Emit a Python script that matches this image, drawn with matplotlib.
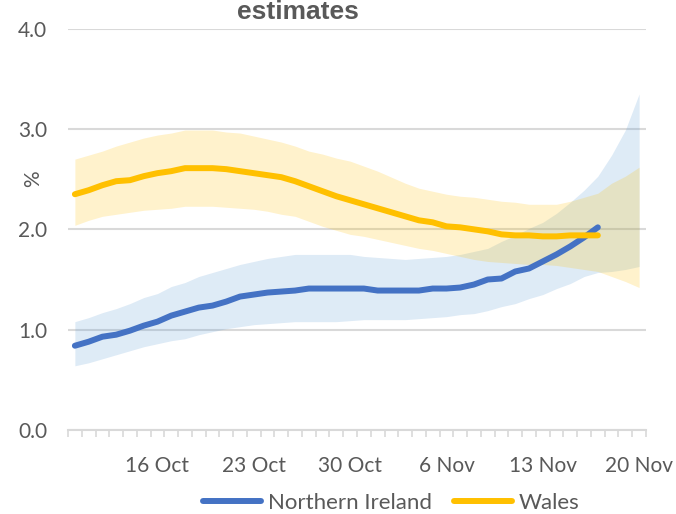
import matplotlib
matplotlib.use("Agg")
import matplotlib.pyplot as plt
import pandas as pd
import numpy as np

# ---- data ----
start_date = "2020-10-10"
n_days = 42
label_every = 7
first_label_index = 6

wales_mid = [2.35, 2.39, 2.44, 2.48, 2.49, 2.53, 2.56, 2.58, 2.61, 2.61,
             2.61, 2.60, 2.58, 2.56, 2.54, 2.52, 2.48, 2.43, 2.38, 2.33,
             2.29, 2.25, 2.21, 2.17, 2.13, 2.09, 2.07, 2.03, 2.02, 2.00,
             1.98, 1.95, 1.94, 1.94, 1.93, 1.93, 1.94, 1.94, 1.94]
wales_upper = [2.70, 2.74, 2.78, 2.83, 2.87, 2.91, 2.94, 2.96, 2.99, 2.99,
               2.99, 2.97, 2.96, 2.93, 2.90, 2.87, 2.83, 2.78, 2.75, 2.71,
               2.68, 2.63, 2.58, 2.52, 2.46, 2.41, 2.38, 2.35, 2.33, 2.32,
               2.30, 2.28, 2.27, 2.25, 2.25, 2.25, 2.28, 2.32, 2.36, 2.46,
               2.53, 2.62]
wales_lower = [2.04, 2.09, 2.13, 2.15, 2.17, 2.19, 2.20, 2.21, 2.23, 2.23,
               2.23, 2.22, 2.21, 2.20, 2.18, 2.15, 2.13, 2.08, 2.03, 1.99,
               1.95, 1.93, 1.90, 1.87, 1.84, 1.81, 1.79, 1.76, 1.73, 1.70,
               1.68, 1.67, 1.66, 1.65, 1.65, 1.64, 1.62, 1.60, 1.58, 1.53,
               1.48, 1.42]

ni_mid = [0.84, 0.88, 0.93, 0.95, 0.99, 1.04, 1.08, 1.14, 1.18, 1.22,
          1.24, 1.28, 1.33, 1.35, 1.37, 1.38, 1.39, 1.41, 1.41, 1.41,
          1.41, 1.41, 1.39, 1.39, 1.39, 1.39, 1.41, 1.41, 1.42, 1.45,
          1.50, 1.51, 1.58, 1.61, 1.68, 1.75, 1.83, 1.92, 2.02]
ni_upper = [1.08, 1.12, 1.17, 1.21, 1.26, 1.32, 1.36, 1.43, 1.47, 1.53,
            1.57, 1.61, 1.65, 1.68, 1.71, 1.73, 1.75, 1.75, 1.75, 1.75,
            1.75, 1.73, 1.72, 1.71, 1.70, 1.71, 1.72, 1.73, 1.75, 1.78,
            1.81, 1.88, 1.94, 2.01, 2.07, 2.16, 2.27, 2.39, 2.53, 2.74,
            2.99, 3.35]
ni_lower = [0.64, 0.67, 0.71, 0.75, 0.79, 0.83, 0.86, 0.89, 0.91, 0.95,
            0.98, 1.01, 1.03, 1.05, 1.06, 1.07, 1.08, 1.08, 1.08, 1.08,
            1.09, 1.10, 1.10, 1.10, 1.10, 1.11, 1.12, 1.13, 1.15, 1.16,
            1.19, 1.23, 1.26, 1.31, 1.35, 1.41, 1.46, 1.53, 1.57, 1.58,
            1.60, 1.63]

y_ticks = [0.0, 1.0, 2.0, 3.0, 4.0]
series_names = ["Northern Ireland", "Wales"]
title_text = "estimates"
y_label = "%"

# ---- styling ----
NI_LINE = "#4472C4"
NI_BAND = "#5B9BD5"
WA_LINE = "#FFC000"
TXT = "#595959"
GRID = "#D9D9D9"
FONT = "Lato"

dates = pd.date_range(start_date, periods=n_days, freq="D")
x = np.arange(n_days)

W, H = 676, 514
fig = plt.figure(figsize=(W / 100, H / 100), dpi=100)
ax = fig.add_axes([68 / W, 1 - 430 / H, (646 - 68) / W, (430 - 28.7) / H])

ax.fill_between(x, ni_lower, ni_upper, color=NI_BAND, alpha=0.2, lw=0, zorder=1)
ax.fill_between(x, wales_lower, wales_upper, color=WA_LINE, alpha=0.2, lw=0, zorder=2)
ax.plot(x[:len(ni_mid)], ni_mid, color=NI_LINE, lw=4.3, solid_capstyle="round",
        zorder=4, label=series_names[0])
ax.plot(x[:len(wales_mid)], wales_mid, color=WA_LINE, lw=4.3, solid_capstyle="round",
        zorder=5, label=series_names[1])

ax.set_xlim(-0.5, n_days - 0.5)
ax.set_ylim(y_ticks[0], y_ticks[-1])

# gridlines
ax.set_yticks(y_ticks)
ax.set_yticklabels([f"{v:.1f}" for v in y_ticks], fontsize=15, color=TXT, family=FONT)
ax.yaxis.grid(True, color=GRID, lw=1.5)
ax.set_axisbelow(True)
ax.tick_params(axis="y", length=0, pad=15)

# x ticks: labels every 7 days, tick marks between categories
lab_idx = list(range(first_label_index, n_days, label_every))
ax.set_xticks(lab_idx)
ax.set_xticklabels([f"{d.day} {d.strftime('%b')}" for d in dates[lab_idx]],
                   fontsize=15, color=TXT, family=FONT)
ax.set_xticks(np.arange(-0.5, n_days, 1.0), minor=True)
ax.tick_params(axis="x", which="major", length=0, pad=18.5)
ax.tick_params(axis="x", which="minor", length=5, width=1.2, color=GRID)

for s in ["top", "right", "left"]:
    ax.spines[s].set_visible(False)
ax.spines["bottom"].set_color(GRID)
ax.spines["bottom"].set_linewidth(1.5)

fig.text(33 / W, 1 - 179 / H, y_label, rotation=90, ha="center", va="center",
         fontsize=15, color=TXT, family=FONT)
fig.text(298 / W, 1 - 19 / H, title_text, ha="center", va="baseline",
         fontsize=19, fontweight="bold", color=TXT, family="Liberation Sans")

handles, labels = ax.get_legend_handles_labels()
leg = fig.legend(handles, labels, loc="center", bbox_to_anchor=(391 / W, 1 - 503 / H),
                 ncol=2, frameon=False, handlelength=2.6, handletextpad=0.3,
                 columnspacing=1.0, prop={"family": FONT, "size": 16})
for t in leg.get_texts():
    t.set_color(TXT)
for l in leg.get_lines():
    l.set_linewidth(4.3)
    l.set_solid_capstyle("round")

fig.savefig("out.png", dpi=100)
